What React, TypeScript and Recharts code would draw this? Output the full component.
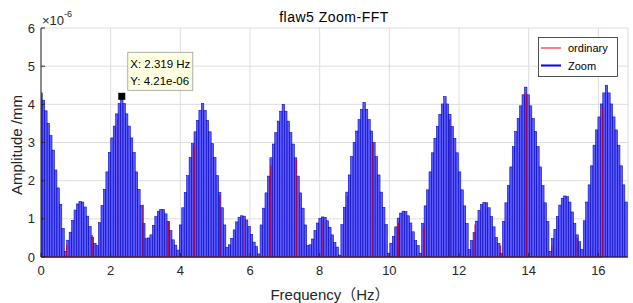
import React from "react";
import { ComposedChart, Bar, Line, Scatter, XAxis, YAxis, CartesianGrid } from "recharts";

// Zoom-FFT spectrum, one bar per frequency bin (amplitudes in 1e-6 mm)
const ZOOM_STEP_HZ = 0.07027;
const zoomAmp = [
  4.3, 4.11, 3.83, 3.5, 3.18, 2.8, 2.28, 1.81, 1.38, 0.75, 0.15,
  0.44, 0.65, 0.96, 1.23, 1.39, 1.45, 1.44, 1.31, 1.07, 0.8, 0.52, 0.36, 0.3,
  0.9, 1.35, 1.77, 2.23, 2.74, 3.12, 3.43, 3.75, 4.02,

  4.21, 4.02, 3.75, 3.43, 3.12, 2.74, 2.23, 1.77, 1.35, 0.88, 0.48,
  0.5, 0.58, 0.83, 1.06, 1.2, 1.25, 1.24, 1.13, 0.93, 0.69, 0.45, 0.31, 0.18,
  0.84, 1.29, 1.69, 2.13, 2.61, 2.97, 3.28, 3.58, 3.84,

  4.02, 3.84, 3.58, 3.28, 2.97, 2.61, 2.13, 1.69, 1.29, 0.84, 0.25,
  0.32, 0.49, 0.71, 0.92, 1.04, 1.08, 1.07, 0.97, 0.8, 0.59, 0.39, 0.27, 0.08,
  0.84, 1.28, 1.68, 2.12, 2.6, 2.96, 3.26, 3.56, 3.82,

  4.0, 3.82, 3.56, 3.26, 2.96, 2.6, 2.12, 1.68, 1.28, 0.84, 0.3,
  0.32, 0.47, 0.69, 0.89, 1.01, 1.05, 1.04, 0.95, 0.78, 0.58, 0.38, 0.26, 0.05,
  0.85, 1.3, 1.7, 2.15, 2.63, 3.0, 3.3, 3.6, 3.87,

  4.05, 3.87, 3.6, 3.3, 3.0, 2.63, 2.15, 1.7, 1.3, 0.85, 0.1,
  0.36, 0.54, 0.79, 1.02, 1.15, 1.2, 1.19, 1.08, 0.89, 0.66, 0.43, 0.3, 0.1,
  0.88, 1.34, 1.76, 2.23, 2.73, 3.11, 3.42, 3.74, 4.01,

  4.2, 4.01, 3.74, 3.42, 3.11, 2.73, 2.23, 1.76, 1.34, 0.88, 0.2,
  0.43, 0.64, 0.94, 1.22, 1.37, 1.43, 1.42, 1.29, 1.06, 0.79, 0.51, 0.36, 0.1,
  0.93, 1.42, 1.87, 2.36, 2.89, 3.29, 3.63, 3.96, 4.25,

  4.45, 4.25, 3.96, 3.63, 3.29, 2.89, 2.36, 1.87, 1.42, 0.93, 0.15,
  0.48, 0.72, 1.06, 1.36, 1.54, 1.6, 1.58, 1.44, 1.18, 0.88, 0.58, 0.4, 0.2,
  0.95, 1.44, 1.89, 2.39, 2.93, 3.33, 3.67, 4.01, 4.3,

  4.5, 4.3, 4.01, 3.67, 3.33, 2.93, 2.39, 1.89, 1.44,
];

// ordinary FFT, coarse bins
const ORDINARY_STEP_HZ = 0.733;
const ordinaryAmp = [
  4.2, 0.32, 0.58, 3.6, 1.37, 0.93, 2.9, 1.62, 1.0, 2.4, 2.55, 0.95,
  1.6, 3.0, 0.9, 0.8, 3.6, 0.85, 0.3, 4.3, 0.3, 0.5, 3.9,
];

const xTicks = [0, 2, 4, 6, 8, 10, 12, 14, 16];
const yTicks = [0, 1, 2, 3, 4, 5, 6];
const X_MAX = 16.85;

const tipX = 2.319;
const tipY = 4.21;

const zoomData = zoomAmp.map((v, i) => ({ f: i * ZOOM_STEP_HZ, zoom: v }));
const ordinaryData = ordinaryAmp.flatMap((v, i) => {
  const f = i * ORDINARY_STEP_HZ;
  return [{ f, y: 0 }, { f, y: v }, { f, y: 0 }];
});
const tipData = [{ f: tipX, y: tipY }];

const FONT = '"Liberation Sans", Arial, "Noto Sans CJK SC", sans-serif';
const AXIS = "#262626";
const BAR_W = 2.45; // one bin wide, so neighbouring bars touch

function ZoomBar(props: any) {
  const { x, y, width, height } = props;
  if (!height || height <= 0) return null;
  const cx = x + width / 2;
  return (
    <rect
      x={cx - BAR_W / 2}
      y={y}
      width={BAR_W}
      height={height}
      fill="#4848ff"
      fillOpacity={0.9}
      stroke="#0000b4"
      strokeWidth={0.55}
    />
  );
}

function DataTip(props: any) {
  const { cx, cy } = props;
  return (
    <g>
      <rect x={cx - 3.5} y={cy - 3.5} width={7} height={7} fill="#000" />
      <rect x={cx + 6} y={cy - 44} width={65} height={38} fill="#ffffe1" stroke="#9a9a9a" strokeWidth={0.8} />
      <text x={cx + 8.5} y={cy - 28} fontSize={11.5} fill="#000" fontFamily={FONT}>
        {`X: ${tipX} Hz`}
      </text>
      <text x={cx + 8.5} y={cy - 11.5} fontSize={11.5} fill="#000" fontFamily={FONT}>
        {`Y: ${tipY}e-06`}
      </text>
    </g>
  );
}

export default function App() {
  const tick = { fontSize: 13, fill: AXIS, fontFamily: FONT };
  return (
    <div style={{ position: "absolute", left: 0, top: 0, width: 633, height: 303, background: "#fff" }}>
      <ComposedChart
        width={633}
        height={303}
        data={zoomData}
        margin={{ top: 28, right: 5, bottom: 0, left: 0 }}
        barCategoryGap={0}
      >
        <CartesianGrid stroke="#dedede" strokeWidth={1} />
        <Line
          data={ordinaryData}
          dataKey="y"
          stroke="#c0002a"
          strokeOpacity={0.75}
          strokeWidth={1}
          dot={false}
          isAnimationActive={false}
          legendType="none"
        />
        <Bar dataKey="zoom" shape={ZoomBar} isAnimationActive={false} />
        <Scatter data={tipData} dataKey="y" shape={DataTip} isAnimationActive={false} />
        <XAxis
          dataKey="f"
          type="number"
          domain={[0, X_MAX]}
          ticks={xTicks}
          allowDataOverflow
          height={46}
          tickSize={-4}
          tickMargin={13}
          tick={tick}
          stroke={AXIS}
          interval={0}
        />
        <XAxis
          xAxisId="top"
          orientation="top"
          type="number"
          domain={[0, X_MAX]}
          ticks={xTicks}
          allowDataOverflow
          height={0}
          mirror
          tickSize={4}
          tick={false}
          stroke={AXIS}
        />
        <YAxis
          type="number"
          domain={[0, 6]}
          ticks={yTicks}
          width={41}
          tickSize={-4}
          tickMargin={10}
          tick={tick}
          stroke={AXIS}
          interval={0}
        />
        <YAxis
          yAxisId="right"
          orientation="right"
          type="number"
          domain={[0, 6]}
          ticks={yTicks}
          width={0}
          mirror
          tickSize={4}
          tick={false}
          stroke={AXIS}
        />
      </ComposedChart>
      <svg
        width={633}
        height={303}
        style={{ position: "absolute", left: 0, top: 0, pointerEvents: "none", fontFamily: FONT }}
      >
        <text x={334} y={22} fontSize={14} textAnchor="middle" fill="#000" letterSpacing={0.5}>
          flaw5 Zoom-FFT
        </text>
        <text x={42} y={25} fontSize={13} fill={AXIS}>
          ×10
          <tspan fontSize={9} dy={-8}>-6</tspan>
        </text>
        <text x={330} y={300} fontSize={15} textAnchor="middle" fill={AXIS}>
          Frequency（Hz）
        </text>
        <text x={22} y={145} fontSize={15} textAnchor="middle" fill={AXIS} transform="rotate(-90 22 145)">
          Amplitude /mm
        </text>
        <g>
          <rect x={538.5} y={37.5} width={79} height={39} fill="#fff" stroke={AXIS} strokeWidth={0.8} />
          <line x1={541} x2={561} y1={48} y2={48} stroke="#ff0000" strokeWidth={1} />
          <text x={568} y={52} fontSize={11} fill="#000">ordinary</text>
          <line x1={541} x2={561} y1={65.5} y2={65.5} stroke="#0000ff" strokeWidth={2} />
          <text x={568} y={69.5} fontSize={11} fill="#000">Zoom</text>
        </g>
      </svg>
    </div>
  );
}
